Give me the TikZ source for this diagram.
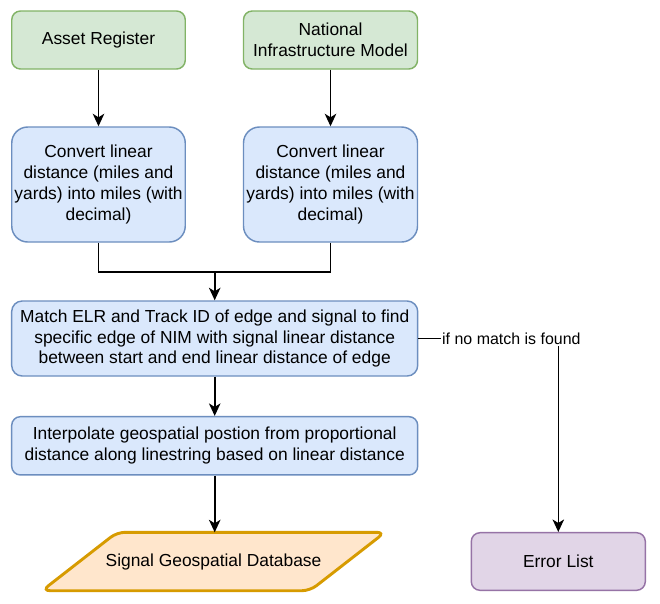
\documentclass[tikz,border=0pt]{standalone}
\usepackage{fontspec}
\setmainfont{Liberation Sans}
\usetikzlibrary{arrows.meta,shapes.geometric}
\definecolor{gfill}{HTML}{D5E8D4}
\definecolor{gline}{HTML}{82B366}
\definecolor{bfill}{HTML}{DAE8FC}
\definecolor{bline}{HTML}{6C8EBF}
\definecolor{ofill}{HTML}{FFE6CC}
\definecolor{oline}{HTML}{D79B00}
\definecolor{pfill}{HTML}{E1D5E7}
\definecolor{pline}{HTML}{9673A6}
\tikzset{
  base/.style={draw, line width=1.45pt, align=center, inner sep=0pt,
    font=\fontsize{17.4}{20.9}\selectfont, text=black},
  gbox/.style={base, fill=gfill, draw=gline, rounded corners=8.7pt},
  bbox/.style={base, fill=bfill, draw=bline},
  pbox/.style={base, fill=pfill, draw=pline, rounded corners=8.7pt},
  conn/.style={line width=1.6pt, draw=black},
  arr/.style={conn, -{Stealth[length=12.5pt,width=11.5pt,inset=3.5pt]}},
  lbl/.style={fill=white, inner sep=1.5pt, font=\fontsize{15.95}{19}\selectfont}
}
\begin{document}
\begin{tikzpicture}[x=1pt,y=-1pt]
\useasboundingbox (0,0) rectangle (660,603);
\fill[white] (0,0) rectangle (660,603);

\node[gbox, minimum width=173.5pt, minimum height=58pt] (ar) at (98.5,40) {Asset Register};
\node[gbox, minimum width=174pt, minimum height=58pt] (nim) at (330.5,40) {National\\Infrastructure Model};

\node[bbox, rounded corners=16pt, minimum width=173.5pt, minimum height=115pt] (cv1) at (98.5,184.5)
  {Convert linear\\distance (miles and\\yards) into miles (with\\decimal)};
\node[bbox, rounded corners=16pt, minimum width=174pt, minimum height=115pt] (cv2) at (330.5,184.5)
  {Convert linear\\distance (miles and\\yards) into miles (with\\decimal)};

\node[bbox, rounded corners=10.5pt, minimum width=406pt, minimum height=75pt] (match) at (214.7,338.5)
  {Match ELR and Track ID of edge and signal to find\\specific edge of NIM with signal linear distance\\between start and end linear distance of edge};

\node[bbox, rounded corners=8.7pt, minimum width=406pt, minimum height=58.3pt] (interp) at (214.7,445.8)
  {Interpolate geospatial postion from proportional\\distance along linestring based on linear distance};

\coordinate (pTL) at (117,532.3);
\coordinate (pTR) at (385,532.3);
\coordinate (pBR) at (310,590.7);
\coordinate (pBL) at (42,590.7);
\draw[line width=2.9pt, draw=oline, fill=ofill, rounded corners=8pt] (pTL) -- (pTR) -- (pBR) -- (pBL) -- cycle;
\node[base, draw=none] (db) at (213.5,561.5) {Signal Geospatial Database};
\coordinate (dbtop) at (214.7,532.3);

\node[pbox, minimum width=174pt, minimum height=57.6pt] (err) at (558.3,561.5) {Error List};

\draw[arr] (ar) -- (cv1);
\draw[arr] (nim) -- (cv2);
\coordinate (mj) at (214.7,271.7);
\draw[conn] (cv1.south) |- (mj);
\draw[conn] (cv2.south) |- (mj);
\draw[arr] (mj) -- (match);
\draw[arr] (match) -- (interp);
\draw[arr] (interp.south) -- (dbtop);

\coordinate (corner) at (558.3,338.3);
\draw[arr] (match.east |- corner) -- (corner) -- (err.north);
\node[lbl, anchor=west] (nomatch) at (440.5,338.3) {if no match is found};
\end{tikzpicture}
\end{document}
